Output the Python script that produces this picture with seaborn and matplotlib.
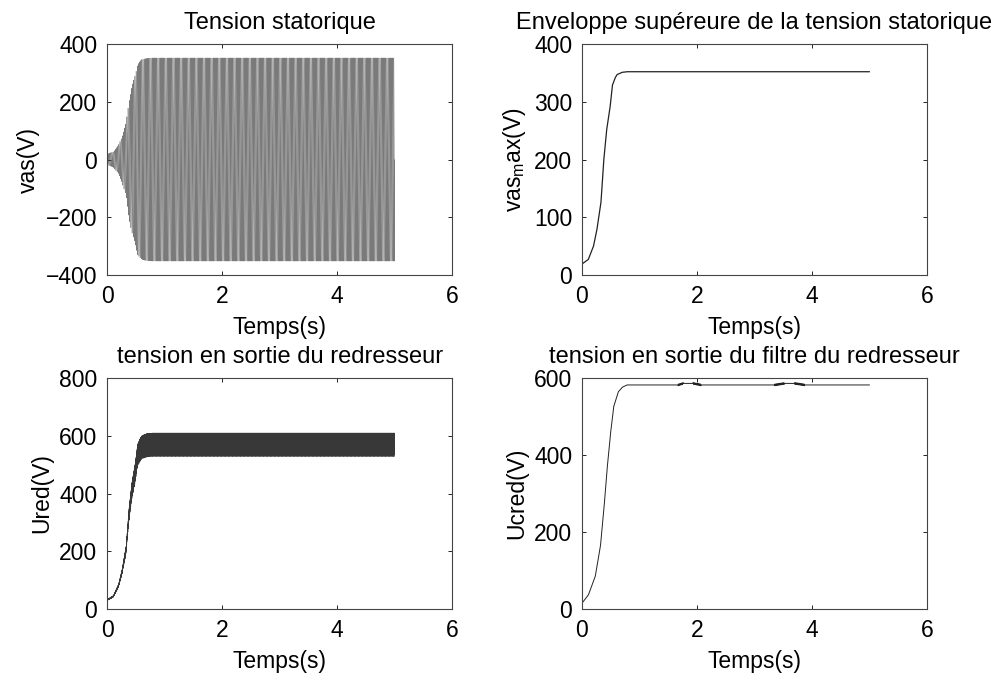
import numpy as np
import pandas as pd
import matplotlib
matplotlib.use("Agg")
import matplotlib.pyplot as plt
import seaborn as sns

# enveloppe de la tension statorique
t_env = [0.0, 0.11, 0.20, 0.26, 0.33, 0.38, 0.43, 0.49, 0.53, 0.58, 0.61, 0.70, 0.79, 5.0]
v_env = [19, 27, 50, 79, 126, 200, 252, 292, 329, 342, 347, 351, 352, 352]

# tension filtree en sortie du redresseur (plateau avec petits sauts)
t_ucred = [0.0, 0.11, 0.23, 0.32, 0.38, 0.43, 0.49, 0.55, 0.63, 0.70, 0.78,
           1.67, 1.76, 1.93, 2.07, 3.35, 3.52, 3.70, 3.87, 5.0]
v_ucred = [15, 36, 84, 162, 257, 353, 448, 525, 564, 576, 582,
           582, 586, 586, 582, 582, 586, 586, 582, 582]
ripple_zones = [(1.67, 1.76), (1.93, 2.07), (3.35, 3.52), (3.70, 3.87)]

f_res = 50.0      # frequence du reseau (Hz)
t_end = 5.0
dt = 2e-4

x_ticks = [0, 2, 4, 6]
titles = ["Tension statorique",
          "Enveloppe supéreure de la tension statorique",
          "tension en sortie du redresseur",
          "tension en sortie du filtre du redresseur"]
ylabels = ["vas(V)", r"vas$_{\mathrm{m}}$ax(V)", "Ured(V)", "Ucred(V)"]
y_ticks = [[-400, -200, 0, 200, 400], [0, 100, 200, 300, 400],
           [0, 200, 400, 600, 800], [0, 200, 400, 600]]

sns.set_theme(style="ticks")
plt.rcParams["font.family"] = ["Liberation Sans", "DejaVu Sans"]
plt.rcParams["mathtext.fontset"] = "custom"
plt.rcParams["mathtext.rm"] = "Liberation Sans"
plt.rcParams["mathtext.it"] = "Liberation Sans:italic"
plt.rcParams["text.color"] = "black"
plt.rcParams["axes.labelcolor"] = "black"

t = np.arange(0, t_end + dt, dt)
w = 2 * np.pi * f_res * t
env = np.interp(t, t_env, v_env)
vas = env * np.sin(w)
# pont de Graetz triphase : max des tensions composees
ll = np.abs(np.stack([np.sin(w + np.pi / 6 + k * np.pi / 3) for k in range(3)]))
ured = np.sqrt(3) * env * ll.max(axis=0)
ucred = np.interp(t, t_ucred, v_ucred)
for a, b in ripple_zones:
    m = (t >= a) & (t <= b)
    ucred[m] += 2 * np.sign(np.sin(2 * np.pi * 40 * t[m]))

df_vas = pd.DataFrame({"t": t, "v": vas})
df_env = pd.DataFrame({"t": t_env, "v": v_env})
df_ured = pd.DataFrame({"t": t, "v": ured})
df_ucred = pd.DataFrame({"t": t, "v": ucred})

fig, axes = plt.subplots(2, 2, figsize=(10.05, 6.73), dpi=100)
axes = axes.ravel()
positions = [[0.1065, 0.5914, 0.3435, 0.3432],
             [0.5791, 0.5914, 0.3433, 0.3432],
             [0.1065, 0.0951, 0.3435, 0.3432],
             [0.5791, 0.0951, 0.3433, 0.3432]]

frames = [df_vas, df_env, df_ured, df_ucred]
widths = [0.25, 0.9, 0.25, 0.7]
colors = ["#404040", "#222222", "#383838", "#222222"]
for i, ax in enumerate(axes):
    ax.set_position(positions[i])
    sns.lineplot(data=frames[i], x="t", y="v", ax=ax, color=colors[i],
                 linewidth=widths[i], estimator=None, sort=False)
    ax.set_xlim(0, 6)
    ax.set_xticks(x_ticks)
    ax.set_ylim(y_ticks[i][0], y_ticks[i][-1])
    ax.set_yticks(y_ticks[i])
    ax.set_title(titles[i], fontsize=17, pad=11, color="black")
    ax.set_xlabel("Temps(s)", fontsize=16.5, labelpad=6)
    ax.set_ylabel(ylabels[i], fontsize=16.5, labelpad=4)
    ax.tick_params(direction="in", length=3, width=0.6, top=True, right=True,
                   labelsize=16.5, colors="black")
    ax.tick_params(axis="x", pad=7)
    ax.tick_params(axis="y", pad=7)
    for s in ax.spines.values():
        s.set_linewidth(0.8)
        s.set_color("#444444")

fig.savefig("out.png", dpi=100)
